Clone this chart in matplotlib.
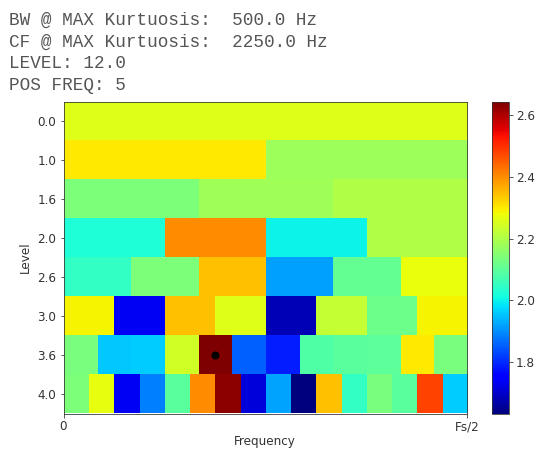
import numpy as np
import matplotlib
matplotlib.use('Agg')
import matplotlib.pyplot as plt

# kurtogram values, one list per level
levels = ['0.0', '1.0', '1.6', '2.0', '2.6', '3.0', '3.6', '4.0']
k_rows = [
    [2.257],
    [2.300, 2.178],
    [2.140, 2.183, 2.201],
    [2.026, 2.400, 2.000, 2.201],
    [2.048, 2.140, 2.345, 1.917, 2.108, 2.275],
    [2.289, 1.735, 2.345, 2.257, 1.682, 2.225, 2.121, 2.289],
    [2.134, 1.956, 1.960, 2.244, 2.643, 1.857, 1.789, 2.084,
     2.097, 2.100, 2.301, 2.134],
    [2.140, 2.268, 1.735, 1.887, 2.097, 2.400, 2.630, 1.712,
     1.922, 1.632, 2.345, 2.048, 2.134, 2.097, 2.478, 1.960],
]
info_lines = [
    'BW @ MAX Kurtuosis:  500.0 Hz',
    'CF @ MAX Kurtuosis:  2250.0 Hz',
    'LEVEL: 12.0',
    'POS FREQ: 5',
]

plt.rcParams['font.size'] = 12
plt.rcParams['text.color'] = '#333333'
plt.rcParams['xtick.color'] = '#333333'
plt.rcParams['ytick.color'] = '#333333'
plt.rcParams['axes.labelcolor'] = '#333333'
plt.rcParams['axes.edgecolor'] = '#333333'

ncol = 48
grid = np.array([np.repeat(r, ncol // len(r)) for r in k_rows])

W, H = 539, 457
fig = plt.figure(figsize=(W / 72, H / 72), dpi=72)

for i, line in enumerate(info_lines):
    fig.text(9 / W, 1 - (25 + 21.7 * i) / H, line, family='Liberation Mono',
             fontsize=17.6, color='#555555', va='baseline')

ax = fig.add_axes([63.5 / W, 1 - 413.5 / H, 403.5 / W, 312 / H])
im = ax.imshow(grid, aspect='auto', cmap='jet', interpolation='nearest',
               extent=(0, 1, len(levels) - 0.5, -0.5))

# mark the maximum
r = int(np.argmax([max(v) for v in k_rows]))
c = int(np.argmax(k_rows[r]))
ax.plot((c + 0.5) / len(k_rows[r]), r, 'o', color='black', markersize=7)

ax.set_xticks([0, 1])
ax.set_xticklabels(['0', 'Fs/2'])
ax.set_yticks(range(len(levels)))
ax.set_yticklabels(levels)
ax.set_xlabel('Frequency', labelpad=2)
ax.set_ylabel('Level', labelpad=6)

cax = fig.add_axes([492 / W, 1 - 414 / H, 17 / W, 312 / H])
cb = fig.colorbar(im, cax=cax)
cb.set_ticks([1.8, 2.0, 2.2, 2.4, 2.6])

fig.savefig('out.png', dpi=72)
